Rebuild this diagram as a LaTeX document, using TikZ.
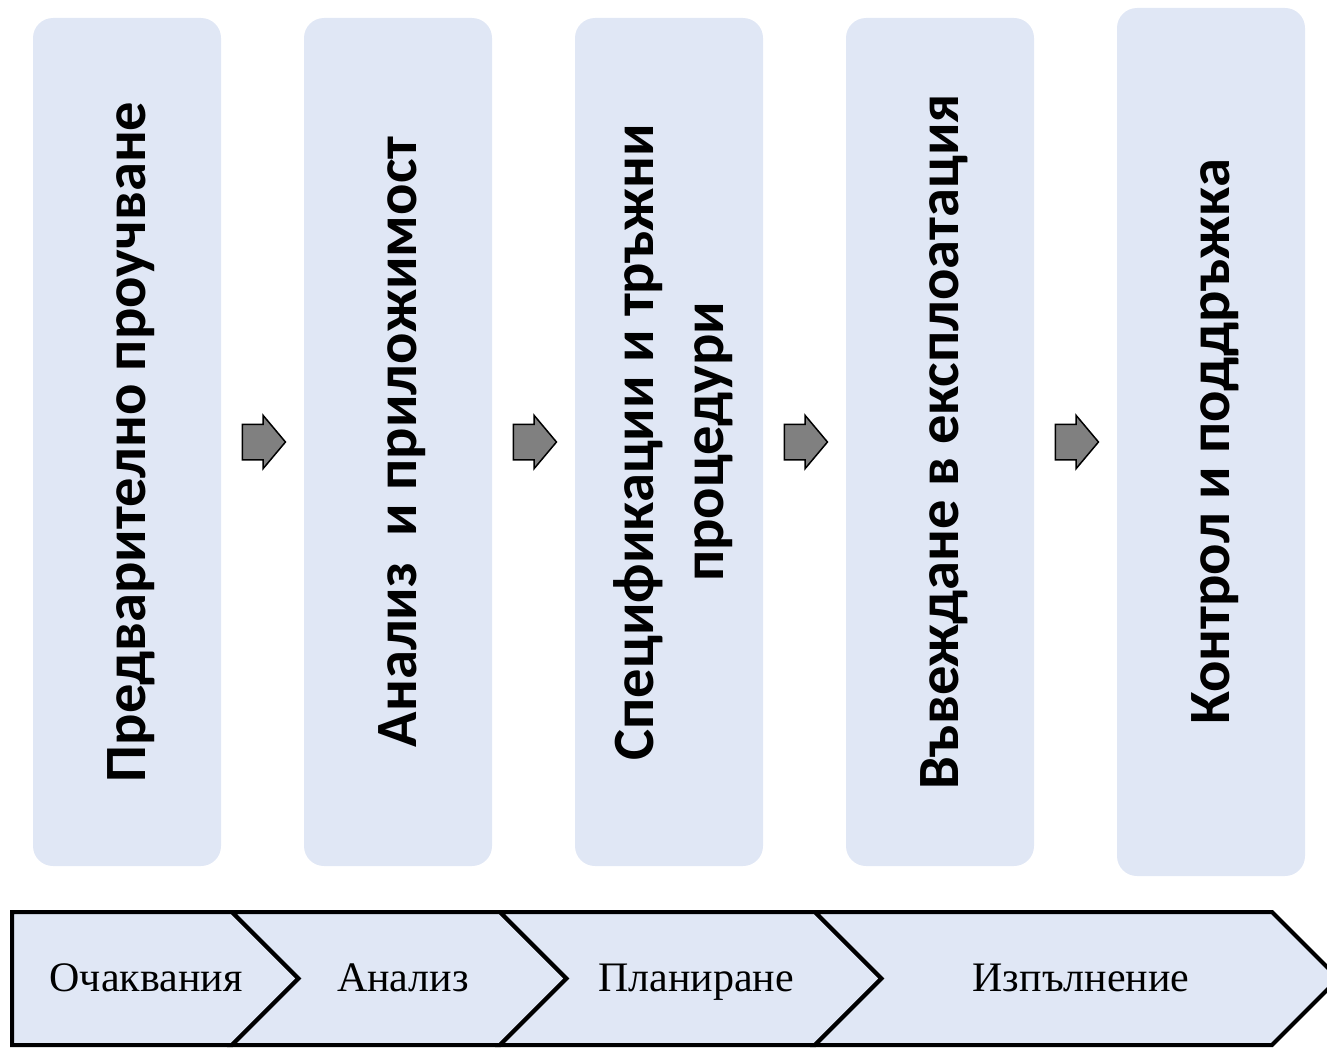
\documentclass[tikz,border=0pt]{standalone}
\usepackage{fontspec}
\setmainfont{Liberation Serif}
\newfontfamily\stagefont{Carlito}
\usetikzlibrary{shapes.arrows}

\definecolor{stageblue}{RGB}{224,231,245}
\definecolor{arrowgray}{RGB}{128,128,128}

\tikzset{
  stage/.style={fill=stageblue, rounded corners=20pt, rotate=90, align=center,
    minimum width=848pt, minimum height=188pt, inner sep=0pt, text depth=0pt,
    font=\stagefont\bfseries\fontsize{58.5}{70}\selectfont},
  nextarrow/.style={single arrow, draw=black, fill=arrowgray, line width=1.5pt,
    minimum height=43pt, single arrow head extend=9pt, single arrow tip angle=100,
    inner xsep=0pt, inner ysep=17pt, text height=0pt, text depth=0pt},
  phase/.style={fill=stageblue, draw=black, line width=4pt},
  phaselabel/.style={anchor=base, font=\fontsize{42}{46}\selectfont}
}

\begin{document}
\begin{tikzpicture}[x=1pt, y=-1pt]
                \useasboundingbox (0,0) rectangle (1327,1049);
%
                \node [stage] (s1) at (127,442) {Предварително проучване};
                \node [stage] (s2) at (398,442) {Анализ~ и приложимост};
                \node [stage] (s3) at (669,442) {Спецификации и тръжни\\процедури};
                \node [stage] (s4) at (940,442) {Въвеждане в експлоатация};
                \node [stage, minimum width=868pt] (s5) at (1211,442) {Контрол и поддръжка};
%
                \node [nextarrow] (a1) at (256.5,442) {};
                \node [nextarrow] (a2) at (527.5,442) {};
                \node [nextarrow] (a3) at (798.5,442) {};
                \node [nextarrow] (a4) at (1069.5,442) {};
%
                \draw [phase] (12,912) -- (232,912) -- (298.5,978.5) -- (232,1045) -- (12,1045) -- cycle;
                \foreach \l/\r in {232/500, 500/815, 815/1272}
                  \draw [phase] (\l,912) -- (\r,912) -- (\r+66.5,978.5) -- (\r,1045)
                    -- (\l,1045) -- (\l+66.5,978.5) -- cycle;
%
                \node [phaselabel] (p1) at (146,991) {Очаквания};
                \node [phaselabel] (p2) at (403,991) {Анализ};
                \node [phaselabel] (p3) at (696,991) {Планиране};
                \node [phaselabel] (p4) at (1081,991) {Изпълнение};
            \end{tikzpicture}
\end{document}
